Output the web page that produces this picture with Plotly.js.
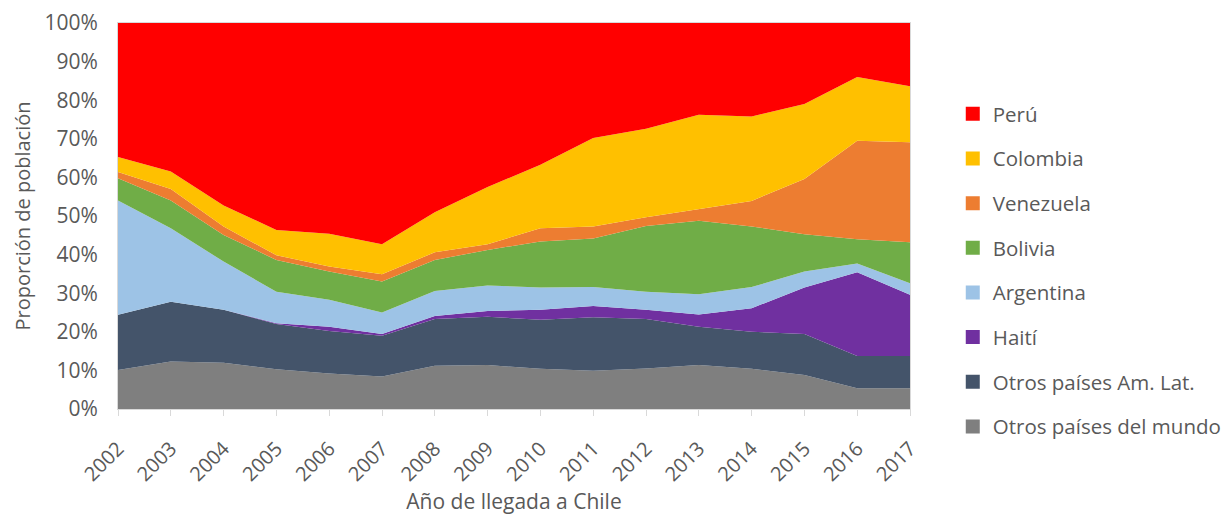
<!DOCTYPE html>
<html>
<head>
<meta charset="utf-8">
<script src="https://cdn.plot.ly/plotly-3.0.1.min.js"></script>
<style>html,body{margin:0;padding:0;background:#fff;}#chart{width:1226px;height:515px;}</style>
</head>
<body>
<div id="chart"></div>
<script>
const years = [2002, 2003, 2004, 2005, 2006, 2007, 2008, 2009, 2010, 2011, 2012, 2013, 2014, 2015, 2016, 2017];

const otrosMundo = [10.1, 12.3, 12.0, 10.3, 9.2, 8.4, 11.2, 11.4, 10.4, 9.9, 10.5, 11.4, 10.4, 8.8, 5.4, 5.4];
const otrosAmLat = [14.3, 15.5, 13.7, 11.7, 11.0, 10.6, 12.1, 12.5, 12.7, 13.9, 12.8, 9.9, 9.6, 10.6, 8.3, 8.3];
const haiti      = [0.0, 0.0, 0.0, 0.2, 1.1, 0.4, 0.8, 1.5, 2.6, 2.9, 2.4, 3.2, 6.1, 12.1, 21.7, 15.9];
const argentina  = [29.6, 19.0, 12.5, 8.2, 7.0, 5.6, 6.5, 6.6, 5.8, 4.9, 4.7, 5.2, 5.5, 4.1, 2.3, 3.0];
const bolivia    = [5.8, 7.2, 6.9, 8.2, 7.3, 8.0, 8.0, 9.2, 11.9, 12.6, 17.0, 19.1, 15.7, 9.7, 6.3, 10.6];
const venezuela  = [1.6, 3.0, 2.2, 1.2, 1.3, 1.9, 2.0, 1.5, 3.4, 3.1, 2.3, 3.0, 6.6, 14.3, 25.5, 25.9];
const colombia   = [3.9, 4.5, 5.4, 6.6, 8.5, 7.8, 10.4, 14.8, 16.5, 22.9, 22.9, 24.4, 21.9, 19.4, 16.5, 14.5];
const peru       = [34.7, 38.5, 47.3, 53.6, 54.6, 57.3, 49.0, 42.5, 36.7, 29.8, 27.4, 23.8, 24.2, 21.0, 14.0, 16.4];

const yTicks = [0, 10, 20, 30, 40, 50, 60, 70, 80, 90, 100];

// bottom to top stacking order
const series = [
  {name: 'Otros países del mundo', y: otrosMundo, color: '#7f7f7f'},
  {name: 'Otros países Am. Lat.', y: otrosAmLat, color: '#44546a'},
  {name: 'Haití', y: haiti, color: '#7030a0'},
  {name: 'Argentina', y: argentina, color: '#9dc3e6'},
  {name: 'Bolivia', y: bolivia, color: '#70ad47'},
  {name: 'Venezuela', y: venezuela, color: '#ed7d31'},
  {name: 'Colombia', y: colombia, color: '#ffc000'},
  {name: 'Perú', y: peru, color: '#ff0000'}
];

const traces = [];
series.forEach(s => {
  traces.push({
    x: years, y: s.y, name: s.name, type: 'scatter', mode: 'lines',
    stackgroup: 'one', line: {width: 0, color: s.color}, fillcolor: s.color,
    showlegend: false, hoverinfo: 'x+y+name'
  });
});
// legend entries (square markers), top = Perú
series.slice().reverse().forEach(s => {
  traces.push({
    x: [null], y: [null], name: s.name, type: 'scatter', mode: 'markers',
    marker: {symbol: 'square', size: 14, color: s.color},
    legendgroup: s.name, showlegend: true, hoverinfo: 'skip'
  });
});

const fam = '"Open Sans", "Noto Sans", sans-serif';
const grey = '#595959';

const layout = {
  width: 1226, height: 515,
  margin: {l: 118, r: 316, t: 23, b: 106, autoexpand: false},
  paper_bgcolor: '#ffffff', plot_bgcolor: '#ffffff',
  font: {family: fam, size: 21, color: grey},
  showlegend: true,
  legend: {
    x: 1.054, y: 0.816, xanchor: 'left', yanchor: 'top',
    traceorder: 'grouped', tracegroupgap: 15,
    font: {family: fam, size: 20.5, color: grey},
    itemwidth: 30, bgcolor: 'rgba(0,0,0,0)'
  },
  xaxis: {
    type: 'linear', range: [2002, 2017], tickmode: 'array', tickvals: years,
    ticktext: years.map(String), tickangle: -45,
    showgrid: false, zeroline: false,
    showline: true, linecolor: '#d9d9d9', linewidth: 1, mirror: true,
    ticks: 'outside', ticklen: 6, tickcolor: '#d9d9d9',
    ticklabelstandoff: 13,
    tickfont: {family: fam, size: 20, color: grey},
    title: {text: 'Año de llegada a Chile', font: {family: fam, size: 21, color: grey}, standoff: 17}
  },
  yaxis: {
    range: [0, 100], tickmode: 'array', tickvals: yTicks,
    ticktext: yTicks.map(v => v + '%'),
    showgrid: false, zeroline: false,
    showline: true, linecolor: '#d9d9d9', linewidth: 1, mirror: true,
    ticks: '', ticklabelstandoff: 15,
    tickfont: {family: fam, size: 21, color: grey},
    title: {text: 'Proporción de población', font: {family: fam, size: 20, color: grey}, standoff: 8}
  }
};

Plotly.newPlot('chart', traces, layout, {displayModeBar: false, staticPlot: true});
</script>
</body>
</html>
